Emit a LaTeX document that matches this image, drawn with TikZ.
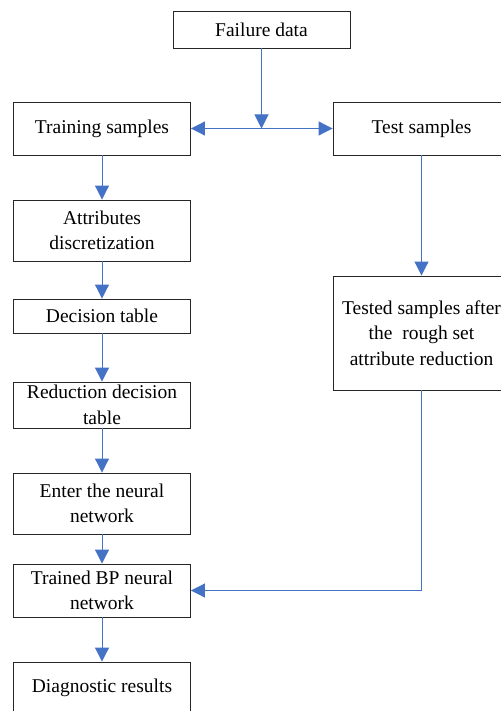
\documentclass[tikz,border=0pt]{standalone}
\usepackage{fontspec}
\setmainfont{Liberation Serif}
\newfontfamily\tnr{Liberation Serif}
\usetikzlibrary{arrows.meta}
\definecolor{lineblue}{HTML}{4472C4}
\begin{document}
\begin{tikzpicture}[x=1pt,y=-1pt,
  box/.style={draw=black!85,line width=0.9pt,minimum width=177pt,inner sep=0pt,align=center,
    font=\tnr\fontsize{19.5}{25.5}\selectfont},
  arr/.style={draw=lineblue,line width=1pt,-{Triangle[width=14pt,length=14pt]}},
  ln/.style={draw=lineblue,line width=1pt}]
\useasboundingbox (0,0) rectangle (500,711);
\node[box,minimum height=37pt] (fail) at (261.5,29.5) {Failure data};
\node[box,minimum height=53pt] (train) at (102,128.5) {Training samples};
\node[box,minimum height=53pt] (test) at (421.5,128.5) {Test samples};
\node[box,minimum height=61pt] (attr) at (102,230.5) {Attributes\\discretization};
\node[box,minimum height=34pt] (dec) at (102,316) {Decision table};
\node[box,minimum height=46pt] (red) at (102,405) {Reduction decision\\table};
\node[box,minimum height=61pt] (enter) at (102,503.5) {Enter the neural\\network};
\node[box,minimum height=53pt] (trained) at (102,590.5) {Trained BP neural\\network};
\node[box,minimum height=52pt] (diag) at (102,688) {Diagnostic results};
\node[box,minimum height=114pt] (tested) at (421.5,333) {Tested samples after\\the\ \ rough set\\attribute reduction};
\coordinate (j) at (261.5,128.5);
\draw[arr] (fail) -- (j);
\draw[arr] (j) -- (train);
\draw[arr] (j) -- (test);
\draw[arr] (train) -- (attr);
\draw[arr] (attr) -- (dec);
\draw[arr] (dec) -- (red);
\draw[arr] (red) -- (enter);
\draw[arr] (enter) -- (trained);
\draw[arr] (trained) -- (diag);
\draw[arr] (test) -- (tested);
\draw[arr] (tested.south) -- (tested.south |- trained.east) -- (trained.east);
\end{tikzpicture}
\end{document}
